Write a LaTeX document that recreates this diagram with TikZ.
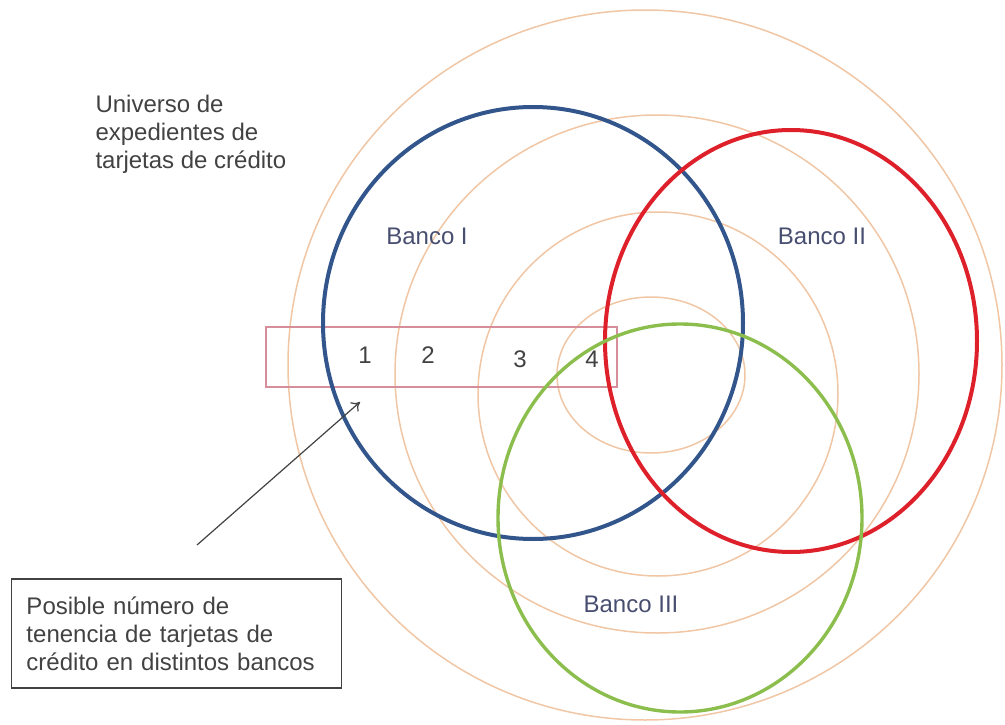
\documentclass[tikz,border=0pt]{standalone}
\usepackage{fontspec}
\setmainfont{Liberation Sans}
\usetikzlibrary{arrows.meta}
\definecolor{bancoblue}{RGB}{50,86,140}
\definecolor{bancored}{RGB}{222,32,42}
\definecolor{bancogreen}{RGB}{140,190,78}
\definecolor{ringorange}{RGB}{240,198,165}
\definecolor{rangepink}{RGB}{214,142,155}
\definecolor{notegrey}{RGB}{66,66,66}
\definecolor{labelblue}{RGB}{72,78,112}
\tikzset{
  ring/.style={draw=ringorange, line width=1.5},
  banco/.style={line width=4},
  bancolabel/.style={text=labelblue, font=\fontsize{24}{28}\selectfont},
  note/.style={text=notegrey, font=\fontsize{24}{28}\selectfont, align=left},
  count/.style={text=notegrey, font=\fontsize{24}{28}\selectfont}
}
\begin{document}
\begin{tikzpicture}[x=1pt, y=-1pt]
      \useasboundingbox (0,0) rectangle (1005,725);
      % universo de expedientes
      \draw[ring] (645,365) ellipse [x radius=357pt, y radius=355pt];
      \draw[ring] (657,374) ellipse [x radius=262pt, y radius=259pt];
      \draw[ring] (658,394) ellipse [x radius=180pt, y radius=182pt];
      \draw[ring] (651,375) ellipse [x radius=94pt, y radius=78pt];
      \draw[rangepink, line width=1.8] (266,327) rectangle (617,387);
      % bancos
      \begin{scope}[banco]
        \draw[bancoblue] (533,323) ellipse [x radius=210pt, y radius=216pt];
        \draw[bancored] (791,341) ellipse [x radius=186pt, y radius=211pt];
        \draw[bancogreen, line width=3.4] (680,518) ellipse [x radius=182pt, y radius=194pt];
      \end{scope}
      \node[bancolabel] (bancoI) at (427,236) {Banco I};
      \node[bancolabel] (bancoII) at (822,236) {Banco II};
      \node[bancolabel] (bancoIII) at (631,604) {Banco III};
      \node[count] (n1) at (365,355) {1};
      \node[count] (n2) at (428,355) {2};
      \node[count] (n3) at (520,359) {3};
      \node[count] (n4) at (592,359) {4};
      \node[note, anchor=west] (universo) at (92,134)
        {Universo de\\expedientes de\\tarjetas de crédito};
      \node[note, draw=notegrey, line width=1.4, text width=300pt,
        inner xsep=15pt, minimum height=109pt] (caja) at (176.5,633.5)
        {Posible número de\\tenencia de tarjetas de\\crédito en distintos bancos};
      \coordinate (cola) at (197,545);
      \coordinate (punta) at (360,402);
      \draw[notegrey, line width=1.2, -{To[length=8pt, width=12pt]}] (cola) -- (punta);
    \end{tikzpicture}
\end{document}
